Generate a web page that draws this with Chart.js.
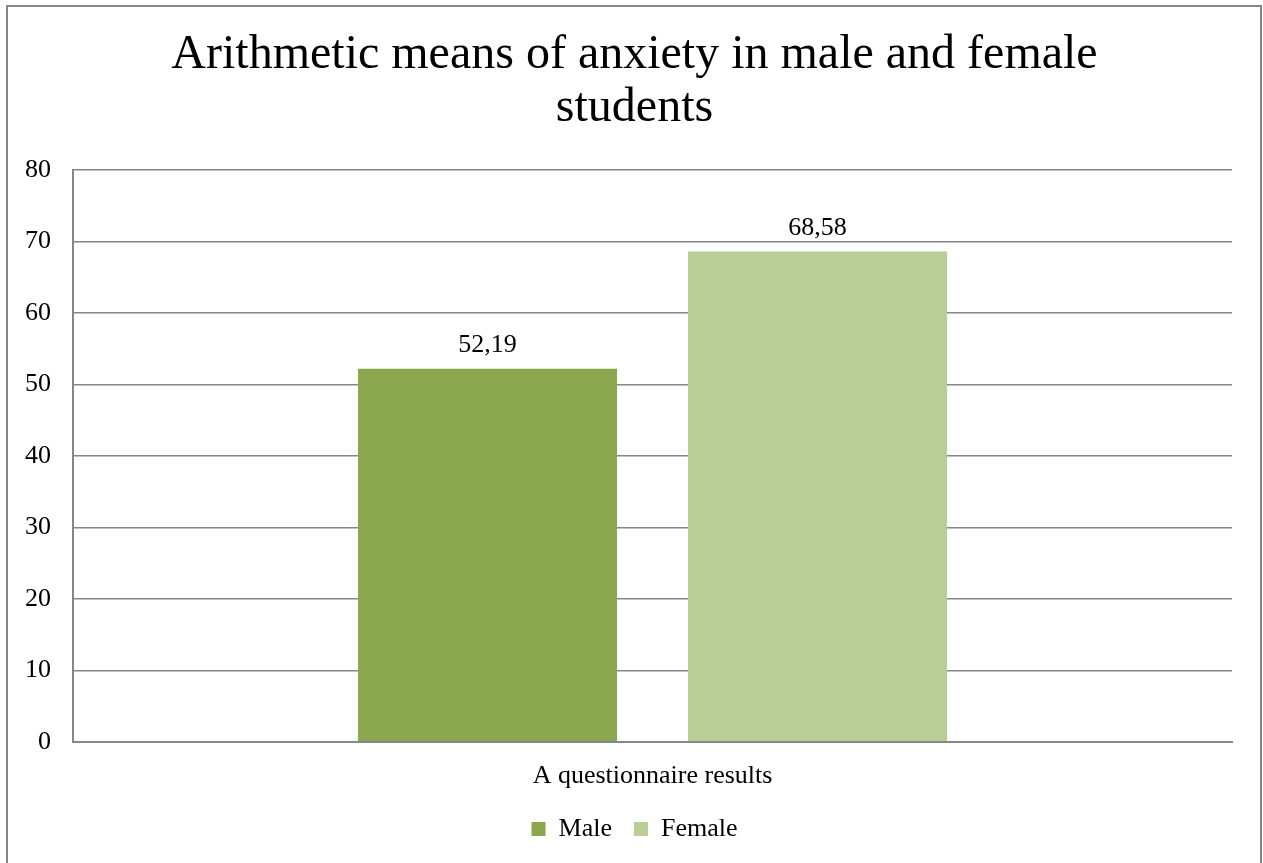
<!DOCTYPE html>
<html>
<head>
<meta charset="utf-8">
<script src="https://cdn.jsdelivr.net/npm/chart.js@4.4.0/dist/chart.umd.min.js"></script>
<style>
  html, body { margin: 0; padding: 0; background: #fff; overflow: hidden; }
  #frame {
    position: absolute; left: 6px; top: 5px;
    width: 1252px; height: 900px;
    border: 2px solid #868686;
  }
  #box { position: relative; width: 1252px; height: 845px; }
</style>
</head>
<body>
<div id="frame">
  <div id="box"><canvas id="myChart"></canvas></div>
</div>
<script>
const categories = ['A questionnaire results'];
const seriesNames = ['Male', 'Female'];
const male = [52.19];
const female = [68.58];
const yTicks = [0, 10, 20, 30, 40, 50, 60, 70, 80];

const serif = '"Liberation Serif", "Times New Roman", serif';

// draws the value above every bar, with a decimal comma
const valueLabels = {
    id: 'valueLabels',
    afterDatasetsDraw(chart) {
        const ctx = chart.ctx;
        ctx.save();
        ctx.font = '26px ' + serif;
        ctx.fillStyle = '#000';
        ctx.textAlign = 'center';
        ctx.textBaseline = 'alphabetic';
        chart.data.datasets.forEach((ds, i) => {
            chart.getDatasetMeta(i).data.forEach((bar, j) => {
                const txt = ds.data[j].toFixed(2).replace('.', ',');
                ctx.fillText(txt, bar.x, bar.y - 17);
            });
        });
        ctx.restore();
    }
};

const ctx = document.getElementById('myChart');
new Chart(ctx, {
    type: 'bar',
    data: {
        labels: categories,
        datasets: [
            {label: seriesNames[0], data: male, backgroundColor: '#8BA74F'},
            {label: seriesNames[1], data: female, backgroundColor: '#B9CE96'}
        ]
    },
    options: {
        responsive: true,
        maintainAspectRatio: false,
        animation: false,
        categoryPercentage: 0.5695,
        barPercentage: 0.785,
        layout: {padding: {left: 29, right: 28, top: 22, bottom: 0}},
        scales: {
            x: {
                grid: {display: false},
                border: {display: true, color: '#868686', width: 2},
                ticks: {color: '#000', padding: 11, font: {family: serif, size: 26}},
                afterFit: axis => { axis.height = axis.height - 9; }
            },
            y: {
                min: 0,
                max: 80,
                afterBuildTicks: axis => { axis.ticks = yTicks.map(v => ({value: v})); },
                afterFit: axis => { axis.width = 36; },
                grid: {color: '#868686', lineWidth: 1.5, drawTicks: false},
                border: {display: true, color: '#868686', width: 2},
                // mirrored so the labels are not clipped to the narrow scale box
                ticks: {color: '#000', mirror: true, crossAlign: 'far', padding: -48,
                        font: {family: serif, size: 26}}
            }
        },
        plugins: {
            title: {
                display: true,
                text: ['Arithmetic means of anxiety in male and female', 'students'],
                color: '#000',
                font: {family: serif, size: 48, weight: 'normal', lineHeight: 1.104},
                padding: {top: 0, bottom: 35}
            },
            legend: {
                position: 'bottom',
                labels: {
                    color: '#000',
                    boxWidth: 14,
                    boxHeight: 14,
                    padding: 22,
                    font: {family: serif, size: 26}
                }
            },
            tooltip: {enabled: false}
        }
    },
    plugins: [valueLabels]
});
</script>
</body>
</html>
